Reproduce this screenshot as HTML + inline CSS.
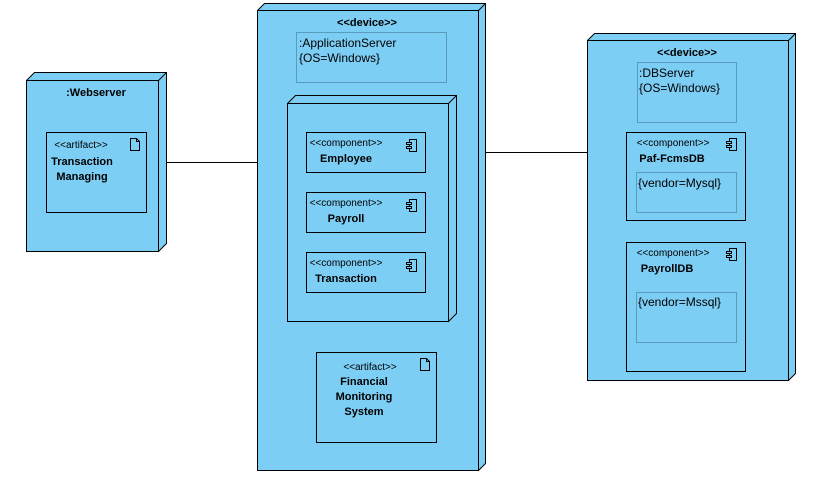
<!DOCTYPE html>
<html><head><meta charset="utf-8"><style>
html,body{margin:0;padding:0;background:#fff;width:827px;height:480px;overflow:hidden}
svg{display:block}
text{font-family:"Liberation Sans",Arial,sans-serif;fill:#000}
.st{font-size:10px}
.b{font-size:11px;font-weight:bold}
.p{font-size:12px}
</style></head><body>
<svg width="827" height="480" viewBox="0 0 827 480" xmlns="http://www.w3.org/2000/svg">
<defs>
<g id="ci">
<rect x="3" y="0" width="7" height="12" fill="none" stroke="#000" stroke-width="1"/>
<rect x="0" y="3" width="5" height="2" fill="#7dcef4" stroke="#000" stroke-width="1"/>
<rect x="0" y="7" width="5" height="2" fill="#7dcef4" stroke="#000" stroke-width="1"/>
</g>
<g id="ai">
<path d="M0,0 H6 L9,3 V12 H0 Z M6,0 V3 H9" fill="none" stroke="#000" stroke-width="1"/>
</g>
</defs>
<g stroke="#000" stroke-width="1" fill="#7dcef4">
<!-- connectors -->
<line x1="166" y1="162.5" x2="257" y2="162.5"/>
<line x1="485" y1="152.5" x2="587" y2="152.5"/>

<!-- Webserver -->
<path d="M26.5,80.5 L34.5,72.5 H166.5 V243.5 L158.5,251.5 Z"/>
<rect x="26.5" y="80.5" width="132" height="171"/>
<line x1="158.5" y1="80.5" x2="166.5" y2="72.5"/>
<rect x="46.5" y="132.5" width="100" height="80"/>

<!-- App server -->
<path d="M257.5,10.5 L264.5,3.5 H485.5 V463.5 L478.5,470.5 Z"/>
<rect x="257.5" y="10.5" width="221" height="460"/>
<line x1="478.5" y1="10.5" x2="485.5" y2="3.5"/>
<rect x="296.5" y="32.5" width="150" height="50" stroke="#5a9bbd"/>
<path d="M287.5,103.5 L295.5,95.5 H456.5 V313.5 L448.5,321.5 Z"/>
<rect x="287.5" y="103.5" width="161" height="218"/>
<line x1="448.5" y1="103.5" x2="456.5" y2="95.5"/>
<rect x="306.5" y="132.5" width="119" height="40"/>
<rect x="306.5" y="192.5" width="119" height="40"/>
<rect x="306.5" y="252.5" width="119" height="40"/>
<rect x="316.5" y="352.5" width="120" height="90"/>

<!-- DB server -->
<path d="M587.5,40.5 L594.5,33.5 H795.5 V373.5 L788.5,380.5 Z"/>
<rect x="587.5" y="40.5" width="201" height="340"/>
<line x1="788.5" y1="40.5" x2="795.5" y2="33.5"/>
<rect x="637.5" y="62.5" width="99" height="60" stroke="#5a9bbd"/>
<rect x="626.5" y="132.5" width="119" height="88"/>
<rect x="636.5" y="172.5" width="100" height="40" stroke="#5a9bbd"/>
<rect x="626.5" y="242.5" width="119" height="129"/>
<rect x="636.5" y="292.5" width="100" height="50" stroke="#5a9bbd"/>
</g>

<use href="#ci" x="406.5" y="139.5"/>
<use href="#ci" x="406.5" y="199.5"/>
<use href="#ci" x="406.5" y="259.5"/>
<use href="#ci" x="726.5" y="138.5"/>
<use href="#ci" x="726.5" y="248.5"/>
<use href="#ai" x="130.5" y="138.5"/>
<use href="#ai" x="420.5" y="358.5"/>

<!-- texts -->
<text class="b" x="96" y="96" text-anchor="middle">:Webserver</text>
<text class="st" x="81" y="148" text-anchor="middle">&lt;&lt;artifact&gt;&gt;</text>
<text class="b" x="82" y="165" text-anchor="middle">Transaction</text>
<text class="b" x="82" y="180" text-anchor="middle">Managing</text>

<text class="b" x="367" y="26" text-anchor="middle">&lt;&lt;device&gt;&gt;</text>
<text class="p" x="299" y="47">:ApplicationServer</text>
<text class="p" x="299" y="62">{OS=Windows}</text>

<text class="st" x="346" y="146" text-anchor="middle">&lt;&lt;component&gt;&gt;</text>
<text class="b" x="346" y="162" text-anchor="middle">Employee</text>
<text class="st" x="346" y="206" text-anchor="middle">&lt;&lt;component&gt;&gt;</text>
<text class="b" x="346" y="222" text-anchor="middle">Payroll</text>
<text class="st" x="346" y="266" text-anchor="middle">&lt;&lt;component&gt;&gt;</text>
<text class="b" x="346" y="282" text-anchor="middle">Transaction</text>

<text class="st" x="370" y="370" text-anchor="middle">&lt;&lt;artifact&gt;&gt;</text>
<text class="b" x="364" y="385" text-anchor="middle">Financial</text>
<text class="b" x="364" y="400" text-anchor="middle">Monitoring</text>
<text class="b" x="364" y="415" text-anchor="middle">System</text>

<text class="b" x="687" y="56" text-anchor="middle">&lt;&lt;device&gt;&gt;</text>
<text class="p" x="639" y="77">:DBServer</text>
<text class="p" x="639" y="92">{OS=Windows}</text>
<text class="st" x="673" y="146" text-anchor="middle">&lt;&lt;component&gt;&gt;</text>
<text class="b" x="672" y="162" text-anchor="middle">Paf-FcmsDB</text>
<text class="p" x="638" y="187">{vendor=Mysql}</text>
<text class="st" x="673" y="256" text-anchor="middle">&lt;&lt;component&gt;&gt;</text>
<text class="b" x="667" y="272" text-anchor="middle">PayrollDB</text>
<text class="p" x="638" y="306">{vendor=Mssql}</text>
</svg>
</body></html>
